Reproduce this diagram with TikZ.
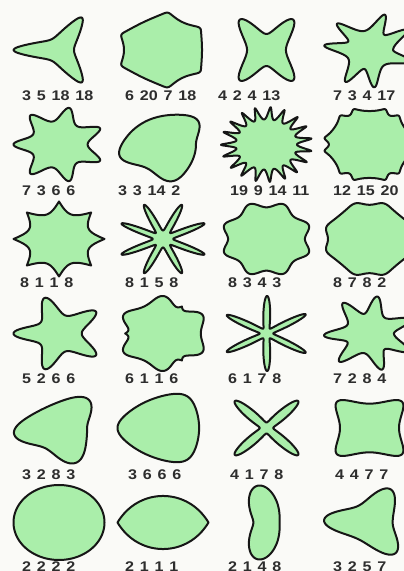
\documentclass[tikz,border=0pt]{standalone}
\usepackage{fontspec}
\setmainfont{Liberation Sans}
\definecolor{bg}{RGB}{250,250,247}
\definecolor{shapefill}{RGB}{170,238,170}
\definecolor{ink}{RGB}{22,22,22}
\definecolor{lbl}{RGB}{45,45,45}
\newcommand\labfont{\fontsize{14}{14}\selectfont\bfseries}
\newcommand\labtext[1]{{\spaceskip=0.36em\relax #1}}
\tikzset{
  superfill/.style={fill=shapefill, draw=ink, line width=2pt, line join=round},
  lab/.style={anchor=base west, inner sep=0pt, font=\labfont, text=lbl, xscale=1.15},
  declare function={ssf(\p,\a,\b)=pow(abs(cos(\p)),\a)+pow(abs(sin(\p)),\b);}
}
% m n1 n2 n3 cx cy samples
\newcommand\SuperShape[7]{%
  \gdef\SSmin{2}%
  \foreach \k in {0,0.5,...,90}{\pgfmathparse{min(\SSmin,ssf(\k,#3,#4))}\xdef\SSmin{\pgfmathresult}}%
  \pgfmathsetmacro\SSr{1/pow(\SSmin,1/#2)}%
  \pgfmathsetmacro\SSx{45.5/\SSr}%
  \pgfmathsetmacro\SSy{37.5/\SSr}%
  \begin{scope}[shift={(#5pt,{(571-#6)*1pt})}, x=\SSx pt, y=\SSy pt]
    \path[superfill] plot[domain=0:360, samples=#7] (\x:{1/pow(ssf(#1*\x/4,#3,#4),1/#2)}) -- cycle;
  \end{scope}}
\newcommand\Lab[4]{\node[lab] (#1) at ({#2*1pt},{(571-#3)*1pt}) {\labtext{#4}};}
\begin{document}
\begin{tikzpicture}
\useasboundingbox (0,0) rectangle (404pt,571pt);
\fill[bg] (0,0) rectangle (404pt,571pt);
\begin{scope}
\clip (0,0) rectangle (404pt,571pt);
% row 1
\SuperShape{3}{5}{18}{18}{59}{50}{361}
\SuperShape{6}{20}{7}{18}{163}{50}{361}
\SuperShape{4}{2}{4}{13}{266.5}{50}{361}
\SuperShape{7}{3}{4}{17}{369.5}{50}{361}
% row 2
\SuperShape{7}{3}{6}{6}{59}{144.5}{361}
\SuperShape{3}{3}{14}{2}{163}{144.5}{361}
\SuperShape{19}{9}{14}{11}{266.5}{144.5}{721}
\SuperShape{12}{15}{20}{3}{369.5}{144.5}{541}
% row 3
\SuperShape{8}{1}{1}{1}{59}{239}{361}
\SuperShape{8}{1}{5}{8}{163}{239}{721}
\SuperShape{8}{3}{4}{3}{266.5}{239}{361}
\SuperShape{8}{7}{8}{2}{369.5}{239}{361}
% row 4
\SuperShape{5}{2}{6}{6}{59}{333.5}{361}
\SuperShape{6}{1}{1}{6}{163}{333.5}{361}
\SuperShape{6}{1}{7}{8}{266.5}{333.5}{721}
\SuperShape{7}{2}{8}{4}{369.5}{333.5}{361}
% row 5
\SuperShape{3}{2}{8}{3}{59}{428}{361}
\SuperShape{3}{6}{6}{6}{163}{428}{361}
\SuperShape{4}{1}{7}{8}{266.5}{428}{541}
\SuperShape{4}{4}{7}{7}{369.5}{428}{361}
% row 6
\SuperShape{2}{2}{2}{2}{59}{522.5}{361}
\SuperShape{2}{1}{1}{1}{163}{522.5}{361}
\SuperShape{2}{1}{4}{8}{266.5}{522.5}{361}
\SuperShape{3}{2}{5}{7}{369.5}{522.5}{361}
% labels
\Lab{a1}{22}{100.5}{3 5 18 18}
\Lab{a2}{125}{100.5}{6 20 7 18}
\Lab{a3}{218}{100.5}{4 2 4 13}
\Lab{a4}{333}{100.5}{7 3 4 17}
\Lab{b1}{22}{196}{7 3 6 6}
\Lab{b2}{118}{196}{3 3 14 2}
\Lab{b3}{230}{196}{19 9 14 11}
\Lab{b4}{333}{196}{12 15 20}
\Lab{c1}{20}{287.5}{8 1 1 8}
\Lab{c2}{125}{287.5}{8 1 5 8}
\Lab{c3}{228}{287.5}{8 3 4 3}
\Lab{c4}{333}{287.5}{8 7 8 2}
\Lab{d1}{22}{383.5}{5 2 6 6}
\Lab{d2}{125}{383.5}{6 1 1 6}
\Lab{d3}{228}{383.5}{6 1 7 8}
\Lab{d4}{333}{383.5}{7 2 8 4}
\Lab{e1}{22}{480}{3 2 8 3}
\Lab{e2}{128}{480}{3 6 6 6}
\Lab{e3}{230}{480}{4 1 7 8}
\Lab{e4}{335}{480}{4 4 7 7}
\Lab{f1}{22}{572}{2 2 2 2}
\Lab{f2}{125}{572}{2 1 1 1}
\Lab{f3}{228}{572}{2 1 4 8}
\Lab{f4}{333}{572}{3 2 5 7}
\end{scope}
\end{tikzpicture}
\end{document}
